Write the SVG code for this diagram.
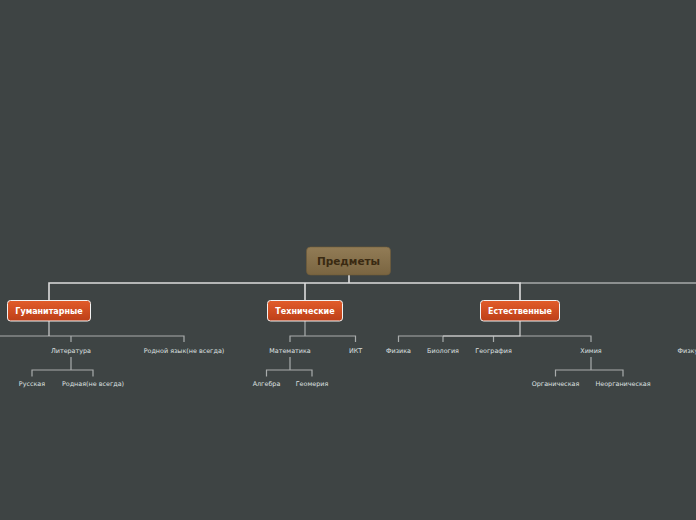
<svg xmlns="http://www.w3.org/2000/svg" width="696" height="520" viewBox="0 0 696 520">
<defs>
<linearGradient id="gRoot" x1="0" y1="0" x2="0" y2="1"><stop offset="0" stop-color="#927c56"/><stop offset="1" stop-color="#7a6541"/></linearGradient>
<linearGradient id="gMain" x1="0" y1="0" x2="0" y2="1"><stop offset="0" stop-color="#e25c2a"/><stop offset="1" stop-color="#bd3f18"/></linearGradient>
</defs>
<style>
.bg{fill:#3e4444}
.c1{fill:none;stroke:#dcdcdc;stroke-width:1.6}
.c1b{fill:none;stroke:#a7aaaa;stroke-width:1.6}
.c2{fill:none;stroke:#a9acac;stroke-width:1.2}
.c2b{fill:none;stroke:#d0d0d0;stroke-width:1.2}
.root{fill:url(#gRoot);stroke:#6e5a38;stroke-width:0.6}
.main{fill:url(#gMain);stroke:#f2f2f2;stroke-width:1}
.tr{font-family:"DejaVu Sans",Verdana,sans-serif;font-weight:bold;font-size:10.5px;fill:#3a2a12;text-anchor:middle}
.tm{font-family:"DejaVu Sans",Verdana,sans-serif;font-weight:bold;font-size:8px;fill:#ffffff;text-anchor:middle}
.tc{font-family:"DejaVu Sans",Verdana,sans-serif;font-size:6.4px;fill:#dfe0e0;text-anchor:middle}
.ts{font-family:"DejaVu Sans",Verdana,sans-serif;font-size:6.4px;fill:#dfe0e0;text-anchor:start}
</style>
<rect class="bg" x="0" y="0" width="696" height="520"/>
<g id="connectors">
<path class="c1b" d="M520 283 H696"/>
<path class="c1" d="M349 275 V283 M49 300 V283 H520 V300 M305 283 V300"/>
<path class="c2" d="M0 336 H184 V342 M71 336 V342"/>
<path class="c2b" d="M49 321 V336"/>
<path class="c2" d="M71 357 V370 M32 376.5 V370 H93 V376.5"/>
<path class="c2" d="M305 321 V336 M290 342 V336 H355.5 V342"/>
<path class="c2" d="M290 357 V370 M266.5 376.5 V370 H312 V376.5"/>
<path class="c2" d="M398.5 342 V336 H591 V342 M443 336 V342 M493.5 336 V342"/>
<path class="c2b" d="M443 336 H520 V321"/>
<path class="c2" d="M591 357 V370 M555.5 376.5 V370 H623 V376.5"/>
</g>
<g id="n-root"><rect class="root" x="306.5" y="247" width="84" height="28" rx="4"/><text class="tr" x="348.5" y="265">Предметы</text></g>
<g id="n-hum"><rect class="main" x="7.5" y="300.5" width="83" height="20.5" rx="3"/><text class="tm" x="49" y="314">Гуманитарные</text></g>
<g id="n-tech"><rect class="main" x="267.5" y="300.5" width="75" height="20.5" rx="3"/><text class="tm" x="305" y="314">Технические</text></g>
<g id="n-nat"><rect class="main" x="480.5" y="300.5" width="79" height="20.5" rx="3"/><text class="tm" x="520" y="314">Естественные</text></g>
<g id="n-lit"><text class="tc" x="71" y="352.5">Литература</text></g>
<g id="n-rod"><text class="tc" x="184" y="352.5">Родной язык(не всегда)</text></g>
<g id="n-rus"><text class="tc" x="32" y="386">Русская</text></g>
<g id="n-rodn"><text class="tc" x="93" y="386">Родная(не всегда)</text></g>
<g id="n-mat"><text class="tc" x="290" y="352.5">Математика</text></g>
<g id="n-ikt"><text class="tc" x="355.5" y="352.5">ИКТ</text></g>
<g id="n-alg"><text class="tc" x="266.5" y="386">Алгебра</text></g>
<g id="n-geom"><text class="tc" x="312" y="386">Геомерия</text></g>
<g id="n-phys"><text class="tc" x="398.5" y="352.5">Физика</text></g>
<g id="n-bio"><text class="tc" x="443" y="352.5">Биология</text></g>
<g id="n-geo"><text class="tc" x="493.5" y="352.5">География</text></g>
<g id="n-chem"><text class="tc" x="591" y="352.5">Химия</text></g>
<g id="n-org"><text class="tc" x="555.5" y="386">Органическая</text></g>
<g id="n-inorg"><text class="tc" x="623" y="386">Неорганическая</text></g>
<g id="n-pe"><text class="ts" x="677.5" y="352.5">Физкультура</text></g>
</svg>
